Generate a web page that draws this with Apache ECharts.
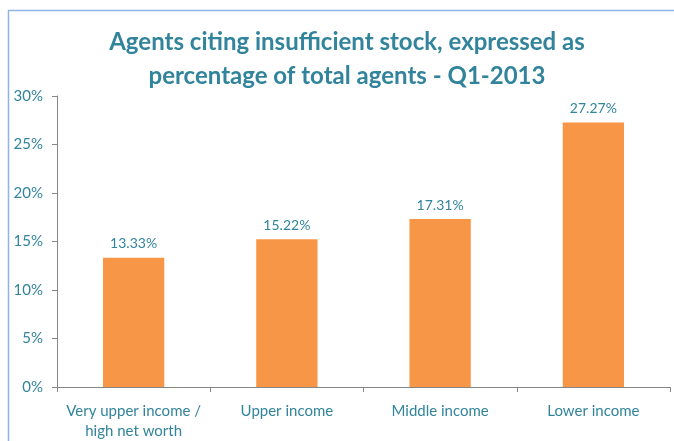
<!DOCTYPE html>
<html>
<head>
<meta charset="utf-8">
<script src="https://cdn.jsdelivr.net/npm/echarts@6/dist/echarts.min.js"></script>
<style>
html,body{margin:0;padding:0;background:#fff;}
#chart{width:674px;height:441px;}
</style>
</head>
<body>
<div id="chart"></div>
<script>
var titleText = 'Agents citing insufficient stock, expressed as\npercentage of total agents - Q1-2013';
var categories = ['Very upper income /\nhigh net worth', 'Upper income', 'Middle income', 'Lower income'];
var values = [13.33, 15.22, 17.31, 27.27];
var yTicks = [0, 5, 10, 15, 20, 25, 30];

var teal = '#31849B';
var font = 'Lato, "Open Sans", sans-serif';
var chart = echarts.init(document.getElementById('chart'), null, {renderer: 'canvas'});
chart.setOption({
  animation: false,
  backgroundColor: '#fff',
  graphic: [{
    type: 'rect',
    shape: {x: 8.5, y: 10.5, width: 720, height: 500},
    style: {fill: 'none', stroke: '#8EB4E3', lineWidth: 1.5},
    silent: true
  }],
  title: {
    text: titleText,
    left: 342,
    top: 20,
    textAlign: 'center',
    textStyle: {color: teal, fontSize: 24, fontWeight: 'bold', fontFamily: font, lineHeight: 34}
  },
  grid: {left: 57, right: 4, top: 96, bottom: 51, containLabel: false},
  xAxis: {
    type: 'category',
    data: categories,
    axisLine: {lineStyle: {color: '#868686', width: 1}},
    axisTick: {show: true, alignWithLabel: false, length: 5, lineStyle: {color: '#868686'}},
    axisLabel: {color: teal, fontSize: 15, fontFamily: font, margin: 14, lineHeight: 20, interval: 0}
  },
  yAxis: {
    type: 'value',
    min: yTicks[0],
    max: yTicks[yTicks.length - 1],
    interval: yTicks[1] - yTicks[0],
    axisLine: {show: true, lineStyle: {color: '#868686', width: 1}},
    axisTick: {show: true, length: 5, lineStyle: {color: '#868686'}},
    splitLine: {show: false},
    axisLabel: {color: teal, fontSize: 15, fontFamily: font, margin: 14, formatter: '{value}%'}
  },
  series: [{
    type: 'bar',
    data: values,
    barWidth: '40%',
    itemStyle: {color: '#F79646'},
    label: {
      show: true,
      position: 'top',
      distance: 7,
      color: teal,
      fontSize: 14,
      fontFamily: font,
      formatter: function (p) { return p.value.toFixed(2) + '%'; }
    }
  }]
});
</script>
</body>
</html>
